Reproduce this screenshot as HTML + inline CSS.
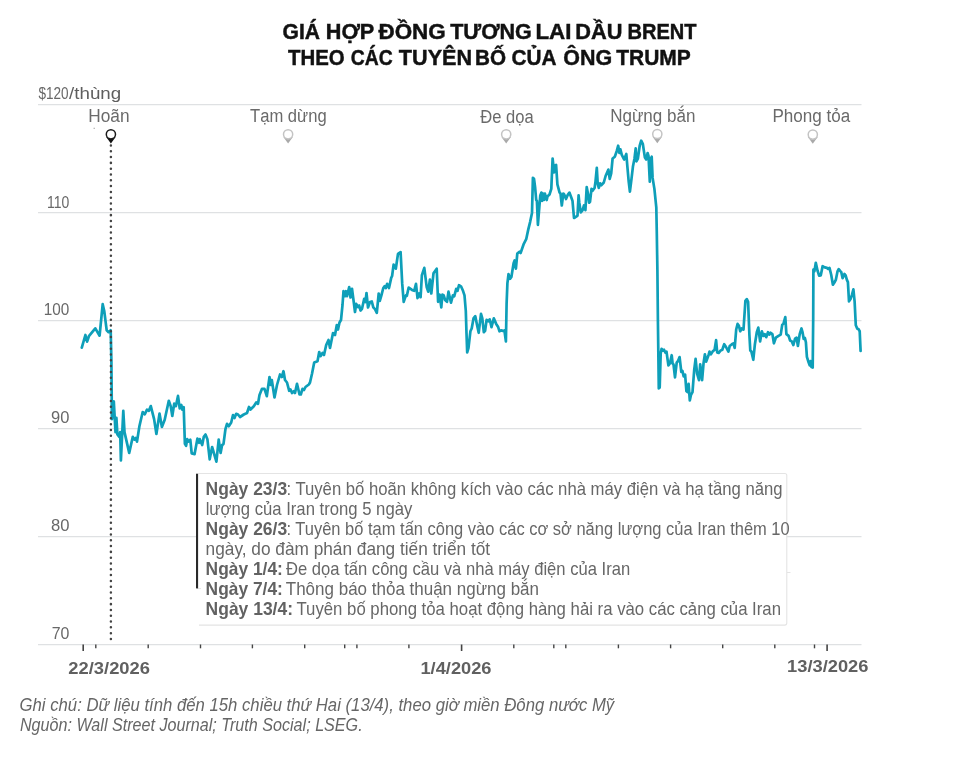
<!DOCTYPE html>
<html lang="vi"><head><meta charset="utf-8"><title>Giá hợp đồng tương lai dầu Brent</title>
<style>html,body{margin:0;padding:0;background:#fff;}svg{display:block;}text{font-family:"Liberation Sans", sans-serif;}</style>
</head><body>
<svg width="961" height="760" viewBox="0 0 961 760">
<rect width="961" height="760" fill="#fff"/>
<line x1="38" x2="861.5" y1="104.7" y2="104.7" stroke="#dfe1e3" stroke-width="1.3"/>
<line x1="38" x2="861.5" y1="212.7" y2="212.7" stroke="#dfe1e3" stroke-width="1.3"/>
<line x1="38" x2="861.5" y1="320.7" y2="320.7" stroke="#dfe1e3" stroke-width="1.3"/>
<line x1="38" x2="861.5" y1="428.7" y2="428.7" stroke="#dfe1e3" stroke-width="1.3"/>
<line x1="38" x2="861.5" y1="536.7" y2="536.7" stroke="#dfe1e3" stroke-width="1.3"/>
<line x1="38" x2="861.5" y1="644.7" y2="644.7" stroke="#dfe1e3" stroke-width="1.3"/>
<line x1="95.8" x2="95.8" y1="644.5" y2="648.3" stroke="#444" stroke-width="1.4"/>
<line x1="148.2" x2="148.2" y1="644.5" y2="648.3" stroke="#444" stroke-width="1.4"/>
<line x1="200.5" x2="200.5" y1="644.5" y2="648.3" stroke="#444" stroke-width="1.4"/>
<line x1="252.4" x2="252.4" y1="644.5" y2="648.3" stroke="#444" stroke-width="1.4"/>
<line x1="304.7" x2="304.7" y1="644.5" y2="648.3" stroke="#444" stroke-width="1.4"/>
<line x1="344.7" x2="344.7" y1="644.5" y2="648.3" stroke="#444" stroke-width="1.4"/>
<line x1="356.9" x2="356.9" y1="644.5" y2="648.3" stroke="#444" stroke-width="1.4"/>
<line x1="408.9" x2="408.9" y1="644.5" y2="648.3" stroke="#444" stroke-width="1.4"/>
<line x1="513.8" x2="513.8" y1="644.5" y2="648.3" stroke="#444" stroke-width="1.4"/>
<line x1="553.8" x2="553.8" y1="644.5" y2="648.3" stroke="#444" stroke-width="1.4"/>
<line x1="565.8" x2="565.8" y1="644.5" y2="648.3" stroke="#444" stroke-width="1.4"/>
<line x1="618.4" x2="618.4" y1="644.5" y2="648.3" stroke="#444" stroke-width="1.4"/>
<line x1="670.6" x2="670.6" y1="644.5" y2="648.3" stroke="#444" stroke-width="1.4"/>
<line x1="722.7" x2="722.7" y1="644.5" y2="648.3" stroke="#444" stroke-width="1.4"/>
<line x1="774.8" x2="774.8" y1="644.5" y2="648.3" stroke="#444" stroke-width="1.4"/>
<line x1="814.5" x2="814.5" y1="644.5" y2="648.3" stroke="#444" stroke-width="1.4"/>
<line x1="83.2" x2="83.2" y1="644.5" y2="651" stroke="#444" stroke-width="1.6"/>
<line x1="461.6" x2="461.6" y1="644.5" y2="651" stroke="#444" stroke-width="1.6"/>
<line x1="827.1" x2="827.1" y1="644.5" y2="651" stroke="#444" stroke-width="1.6"/>
<text x="282.53" y="39.1" font-size="21.8" fill="#111" xml:space="preserve" font-weight="bold" textLength="37.47" lengthAdjust="spacingAndGlyphs" stroke="#111" stroke-width="0.45">GIÁ</text>
<text x="325.75" y="39.1" font-size="21.8" fill="#111" xml:space="preserve" font-weight="bold" textLength="48.55" lengthAdjust="spacingAndGlyphs" stroke="#111" stroke-width="0.45">HỢP</text>
<text x="378.5" y="39.1" font-size="21.8" fill="#111" xml:space="preserve" font-weight="bold" textLength="67.24" lengthAdjust="spacingAndGlyphs" stroke="#111" stroke-width="0.45">ĐỒNG</text>
<text x="450.14" y="39.1" font-size="21.8" fill="#111" xml:space="preserve" font-weight="bold" textLength="81.68" lengthAdjust="spacingAndGlyphs" stroke="#111" stroke-width="0.45">TƯƠNG</text>
<text x="535.4" y="39.1" font-size="21.8" fill="#111" xml:space="preserve" font-weight="bold" textLength="35.99" lengthAdjust="spacingAndGlyphs" stroke="#111" stroke-width="0.45">LAI</text>
<text x="575.34" y="39.1" font-size="21.8" fill="#111" xml:space="preserve" font-weight="bold" textLength="47.21" lengthAdjust="spacingAndGlyphs" stroke="#111" stroke-width="0.45">DẦU</text>
<text x="627.45" y="39.1" font-size="21.8" fill="#111" xml:space="preserve" font-weight="bold" textLength="69.09" lengthAdjust="spacingAndGlyphs" stroke="#111" stroke-width="0.45">BRENT</text>
<text x="288.05" y="64.8" font-size="21.8" fill="#111" xml:space="preserve" font-weight="bold" textLength="56.66" lengthAdjust="spacingAndGlyphs" stroke="#111" stroke-width="0.45">THEO</text>
<text x="350.81" y="64.8" font-size="21.8" fill="#111" xml:space="preserve" font-weight="bold" textLength="41.9" lengthAdjust="spacingAndGlyphs" stroke="#111" stroke-width="0.45">CÁC</text>
<text x="398.84" y="64.8" font-size="21.8" fill="#111" xml:space="preserve" font-weight="bold" textLength="73.22" lengthAdjust="spacingAndGlyphs" stroke="#111" stroke-width="0.45">TUYÊN</text>
<text x="475.11" y="64.8" font-size="21.8" fill="#111" xml:space="preserve" font-weight="bold" textLength="31.02" lengthAdjust="spacingAndGlyphs" stroke="#111" stroke-width="0.45">BỐ</text>
<text x="511.55" y="64.8" font-size="21.8" fill="#111" xml:space="preserve" font-weight="bold" textLength="44.97" lengthAdjust="spacingAndGlyphs" stroke="#111" stroke-width="0.45">CỦA</text>
<text x="563.22" y="64.8" font-size="21.8" fill="#111" xml:space="preserve" font-weight="bold" textLength="48.86" lengthAdjust="spacingAndGlyphs" stroke="#111" stroke-width="0.45">ÔNG</text>
<text x="616.24" y="64.8" font-size="21.8" fill="#111" xml:space="preserve" font-weight="bold" textLength="74.61" lengthAdjust="spacingAndGlyphs" stroke="#111" stroke-width="0.45">TRUMP</text>
<text x="38.49" y="99.0" font-size="15.6" fill="#686868" xml:space="preserve" textLength="30.13" lengthAdjust="spacingAndGlyphs">$120</text>
<text x="69.13" y="99.0" font-size="15.6" fill="#5e5e5e" xml:space="preserve" textLength="52.04" lengthAdjust="spacingAndGlyphs">/thùng</text>
<text x="46.92" y="208.2" font-size="15.9" fill="#686868" xml:space="preserve" textLength="22.29" lengthAdjust="spacingAndGlyphs">110</text>
<text x="43.67" y="315.2" font-size="15.9" fill="#686868" xml:space="preserve" textLength="25.52" lengthAdjust="spacingAndGlyphs">100</text>
<text x="51.06" y="423.2" font-size="15.9" fill="#686868" xml:space="preserve" textLength="18.36" lengthAdjust="spacingAndGlyphs">90</text>
<text x="50.94" y="531.2" font-size="15.9" fill="#686868" xml:space="preserve" textLength="18.48" lengthAdjust="spacingAndGlyphs">80</text>
<text x="51.69" y="639.2" font-size="15.9" fill="#686868" xml:space="preserve" textLength="17.7" lengthAdjust="spacingAndGlyphs">70</text>
<text x="88.28" y="122.0" font-size="17.6" fill="#6a6a6a" xml:space="preserve" textLength="41.29" lengthAdjust="spacingAndGlyphs">Hoãn</text>
<text x="250.02" y="122.0" font-size="17.6" fill="#6a6a6a" xml:space="preserve" textLength="76.63" lengthAdjust="spacingAndGlyphs">Tạm dừng</text>
<text x="480.36" y="122.6" font-size="17.6" fill="#6a6a6a" xml:space="preserve" textLength="53.38" lengthAdjust="spacingAndGlyphs">Đe dọa</text>
<text x="610.2" y="121.8" font-size="17.6" fill="#6a6a6a" xml:space="preserve" textLength="85.29" lengthAdjust="spacingAndGlyphs">Ngừng bắn</text>
<text x="772.4" y="121.7" font-size="17.6" fill="#6a6a6a" xml:space="preserve" textLength="77.81" lengthAdjust="spacingAndGlyphs">Phong tỏa</text>
<text x="68.36" y="674.1" font-size="15.8" fill="#606060" xml:space="preserve" font-weight="bold" textLength="81.61" lengthAdjust="spacingAndGlyphs">22/3/2026</text>
<text x="420.44" y="674.1" font-size="15.8" fill="#606060" xml:space="preserve" font-weight="bold" textLength="71.09" lengthAdjust="spacingAndGlyphs">1/4/2026</text>
<text x="787.14" y="671.9" font-size="15.8" fill="#606060" xml:space="preserve" font-weight="bold" textLength="81.32" lengthAdjust="spacingAndGlyphs">13/3/2026</text>
<text x="19.55" y="710.5" font-size="17.6" fill="#666" xml:space="preserve" font-style="italic" textLength="594.63" lengthAdjust="spacingAndGlyphs">Ghi chú: Dữ liệu tính đến 15h chiều thứ Hai (13/4), theo giờ miền Đông nước Mỹ</text>
<text x="19.91" y="730.5" font-size="17.6" fill="#666" xml:space="preserve" font-style="italic" textLength="342.75" lengthAdjust="spacingAndGlyphs">Nguồn: Wall Street Journal; Truth Social; LSEG.</text>
<path d="M198,473.5 H784.8 Q786.8,473.5 786.8,475.5 V623.1 Q786.8,625.1 784.8,625.1 H198 Z" fill="#fff" stroke="none"/>
<path d="M198,473.5 H784.8 Q786.8,473.5 786.8,475.5 V623.1 Q786.8,625.1 784.8,625.1 H199" fill="none" stroke="#e4e4e4" stroke-width="1.1"/>
<line x1="197" x2="201" y1="588.6" y2="588.6" stroke="#e4e4e4" stroke-width="1"/>
<line x1="197.05" x2="197.05" y1="473.7" y2="588.4" stroke="#2a2a2a" stroke-width="2.1"/>
<line x1="787" x2="790.5" y1="572.5" y2="572.5" stroke="#e4e4e4" stroke-width="1"/>
<path d="M81.8,347.6 L85.4,335.0 L87.1,341.6 L88.9,336.2 L95.3,328.4 L99.6,335.7 L102.7,304.2 L104.3,311.3 L106.7,330.3 L108.6,332.2 L110.7,330.3 L111.4,361.1 L111.9,419.1 L113.8,401.3 L115.5,432.1 L116.4,417.9 L117.4,434.5 L119.3,436.8 L120.2,432.1 L120.9,460.5 L123.3,410.8 L124.5,432.1 L129.2,452.9 L132.8,436.8 L134.4,439.7 L135.8,438.0 L137.0,441.6 L139.4,426.2 L142.7,412.0 L144.8,414.3 L147.0,409.6 L148.9,410.8 L150.8,406.1 L154.1,419.1 L156.4,434.0 L159.5,413.6 L161.9,426.9 L164.7,419.8 L168.8,400.8 L170.7,406.1 L172.3,416.0 L174.2,403.7 L175.9,406.1 L178.0,395.9 L179.7,408.4 L181.3,404.9 L182.3,409.6 L183.7,407.2 L184.9,443.9 L186.1,445.8 L187.2,439.2 L188.4,441.6 L190.3,439.7 L191.7,453.4 L194.6,454.1 L197.4,438.7 L199.1,442.8 L199.8,439.2 L202.2,445.1 L203.8,436.8 L205.5,434.5 L207.4,439.2 L209.7,459.3 L212.1,447.0 L216.4,461.7 L218.7,439.7 L220.6,452.9 L222.1,445.1 L223.5,443.9 L225.5,428.8 L227.0,423.8 L228.8,426.2 L231.2,422.5 L233.0,415.0 L234.5,418.0 L236.2,413.8 L238.0,414.5 L240.0,417.0 L243.8,414.5 L247.0,413.0 L249.0,407.0 L250.5,409.5 L253.8,406.2 L256.2,402.5 L258.0,403.8 L259.5,395.0 L262.0,388.8 L264.5,388.8 L266.8,396.2 L269.5,377.0 L270.8,385.0 L271.8,380.0 L274.5,397.5 L277.0,385.0 L280.0,374.5 L281.8,377.0 L283.5,371.2 L285.0,380.0 L287.0,382.5 L289.2,390.8 L290.5,389.5 L292.0,393.0 L293.8,391.2 L295.0,393.0 L297.0,383.8 L299.5,394.5 L300.8,394.5 L302.5,388.8 L304.0,390.0 L305.5,387.0 L308.8,384.5 L310.0,382.5 L312.0,373.8 L314.2,362.5 L317.5,361.2 L319.2,352.0 L320.5,356.2 L322.5,353.0 L324.0,355.0 L326.2,345.0 L328.5,340.0 L330.0,348.0 L333.0,333.0 L335.0,335.0 L336.8,325.0 L338.0,329.5 L339.5,322.5 L341.0,320.0 L342.5,305.0 L343.5,291.2 L345.0,296.2 L346.0,291.2 L347.0,296.2 L349.2,287.0 L350.5,297.5 L352.0,288.8 L353.8,302.5 L355.0,312.0 L356.2,303.8 L358.0,307.0 L359.2,305.5 L360.5,310.5 L362.0,308.8 L364.2,298.8 L365.5,302.0 L366.5,293.0 L368.0,307.5 L370.0,302.0 L371.8,301.5 L373.3,307.3 L375.0,309.2 L376.8,312.9 L378.7,293.5 L379.8,300.9 L381.4,295.4 L383.3,288.0 L384.7,286.2 L385.8,288.0 L387.1,283.8 L389.0,288.0 L391.2,277.9 L392.1,276.0 L393.6,264.6 L395.8,268.7 L398.0,253.9 L400.6,252.1 L402.2,283.4 L403.7,301.8 L405.9,295.4 L406.8,295.9 L408.7,287.5 L412.0,289.9 L414.2,290.8 L416.0,283.8 L417.5,298.1 L419.2,293.5 L420.6,297.2 L421.9,275.1 L424.3,267.8 L426.7,287.1 L428.2,291.7 L429.9,279.7 L431.3,293.5 L433.5,273.3 L436.7,268.7 L438.1,301.8 L439.6,294.5 L441.3,307.3 L442.4,294.5 L443.7,295.4 L445.1,300.0 L447.0,301.8 L448.5,291.7 L451.0,302.7 L452.9,295.4 L454.2,296.3 L456.2,288.9 L457.5,290.8 L459.0,285.2 L461.2,286.7 L463.0,290.8 L464.5,295.4 L465.8,311.0 L466.5,333.1 L467.2,352.5 L468.5,347.9 L470.4,331.3 L471.7,328.5 L473.5,318.4 L475.3,316.2 L477.2,325.8 L478.7,332.8 L481.0,313.8 L482.3,318.4 L483.8,332.2 L485.1,330.9 L486.6,319.9 L488.4,321.2 L489.7,319.3 L491.5,327.2 L493.8,318.4 L496.2,323.9 L498.0,326.7 L499.5,331.3 L501.1,330.4 L503.0,330.9 L504.4,330.4 L505.9,341.4 L506.6,303.7 L507.4,283.4 L508.5,274.2 L510.0,278.8 L511.4,277.0 L513.6,263.1 L514.6,260.4 L515.9,268.7 L517.3,253.6 L519.5,251.7 L520.6,253.0 L521.9,249.3 L523.8,243.8 L526.2,239.2 L528.3,229.4 L530.1,222.1 L532.0,212.9 L532.9,177.9 L534.0,178.8 L535.1,187.1 L536.2,200.0 L536.9,200.9 L537.9,224.8 L539.3,207.3 L540.3,195.4 L541.4,192.6 L542.1,200.9 L543.0,193.5 L543.9,200.0 L544.9,193.5 L546.7,200.0 L547.6,196.3 L549.5,194.5 L551.3,188.9 L552.6,158.5 L554.1,172.4 L554.6,165.9 L556.1,165.0 L557.4,184.3 L559.6,192.6 L560.5,193.5 L561.8,205.5 L563.3,193.5 L564.2,194.5 L566.0,199.1 L567.9,194.5 L569.4,192.6 L571.2,197.2 L572.5,200.9 L574.0,218.0 L576.2,216.6 L577.5,215.6 L578.6,195.4 L579.3,202.7 L580.8,212.5 L582.6,210.1 L583.9,205.5 L585.4,210.1 L586.7,187.1 L588.1,194.5 L589.1,202.7 L590.0,201.8 L591.5,188.9 L592.4,190.8 L594.6,188.0 L595.5,181.6 L596.8,167.8 L597.7,183.4 L598.8,188.0 L600.1,183.4 L601.4,185.2 L603.8,182.5 L605.6,176.0 L608.4,169.6 L609.7,178.8 L611.2,173.3 L612.6,158.5 L614.8,156.7 L616.7,151.2 L618.2,145.7 L619.4,153.0 L620.4,149.3 L621.8,154.9 L624.1,159.5 L626.3,153.9 L627.4,166.8 L628.7,181.6 L629.9,191.7 L631.4,179.7 L632.9,166.8 L634.5,158.5 L635.7,148.4 L636.4,161.3 L637.9,158.5 L639.7,145.7 L641.2,140.7 L642.8,143.8 L644.9,157.6 L646.2,159.5 L647.6,153.0 L648.5,155.8 L649.8,181.6 L650.4,159.5 L651.7,156.7 L652.6,177.9 L654.4,188.9 L656.3,207.3 L656.8,233.1 L657.4,270.0 L657.9,320.2 L658.8,388.4 L659.7,387.5 L660.7,353.4 L661.6,348.8 L662.9,350.6 L664.0,349.7 L665.3,352.5 L666.5,351.6 L668.4,365.4 L669.9,363.5 L671.7,355.2 L672.6,363.5 L673.5,364.4 L675.0,377.3 L676.7,362.6 L678.1,360.8 L679.6,357.1 L681.3,371.8 L682.4,370.9 L683.7,376.4 L685.1,374.6 L686.4,391.2 L687.7,392.1 L688.6,383.8 L689.8,400.4 L691.0,394.8 L692.5,392.1 L694.2,370.0 L695.6,358.9 L697.1,373.7 L699.0,380.1 L700.2,364.4 L702.1,380.1 L703.6,362.6 L704.9,354.3 L706.1,361.7 L708.5,355.2 L709.5,351.6 L710.9,354.3 L712.6,351.6 L714.6,349.7 L716.1,340.1 L717.2,352.5 L718.7,353.0 L720.5,350.6 L722.3,349.7 L724.2,344.2 L726.0,347.0 L728.4,351.6 L729.7,346.0 L731.9,344.2 L733.4,343.3 L734.7,347.9 L736.2,329.5 L737.6,323.9 L738.9,325.8 L740.2,331.3 L741.7,328.5 L743.5,329.5 L745.4,300.9 L746.8,299.1 L748.1,301.8 L749.4,335.0 L750.3,350.6 L751.4,351.6 L753.3,359.8 L754.9,344.2 L756.8,332.2 L758.3,327.6 L760.1,341.4 L761.9,331.3 L763.4,335.9 L764.7,334.1 L766.2,337.2 L768.0,332.2 L769.3,334.6 L770.6,332.8 L772.4,334.1 L773.9,343.3 L775.8,337.7 L778.5,335.9 L780.7,334.6 L782.2,324.9 L783.5,323.6 L785.3,317.1 L786.4,334.1 L788.6,335.9 L790.1,340.5 L791.8,341.4 L793.3,345.1 L795.1,338.7 L796.6,337.7 L797.9,346.0 L799.7,334.1 L801.5,328.5 L802.5,332.1 L803.7,338.9 L804.9,338.0 L805.9,342.3 L806.9,356.8 L808.5,362.0 L809.7,365.4 L810.7,361.1 L811.5,367.1 L812.7,367.6 L813.2,318.4 L813.4,269.7 L814.4,271.4 L815.8,262.8 L817.5,270.5 L819.1,275.6 L820.8,275.3 L822.6,266.2 L824.7,267.4 L826.9,267.9 L828.1,268.8 L829.5,267.9 L831.2,274.8 L832.9,284.7 L834.4,282.5 L835.8,279.9 L837.5,271.4 L838.7,269.1 L840.1,270.9 L841.3,272.2 L842.6,278.2 L844.4,273.9 L845.6,275.3 L846.9,279.9 L847.9,282.1 L849.0,301.3 L850.7,298.7 L852.1,294.4 L853.4,289.3 L854.6,301.3 L855.8,325.2 L857.2,328.6 L858.4,329.0 L859.7,331.2 L860.6,350.9" fill="none" stroke="#0e9fb9" stroke-width="2.7" stroke-linejoin="round" stroke-linecap="round"/>
<line x1="110.9" x2="110.9" y1="145.45" y2="640" stroke="#444" stroke-width="2.5" stroke-dasharray="0.01 5.796" stroke-linecap="round"/>
<path d="M106.0,136.7 L110.9,143.5 L115.80000000000001,136.7 Z" fill="#111"/>
<circle cx="110.9" cy="134.3" r="4.6" fill="#fff" stroke="#1a1a1a" stroke-width="1.5"/>
<path d="M283.20000000000005,136.7 L288.1,143.5 L293.0,136.7 Z" fill="#a9a9a9"/>
<circle cx="288.1" cy="134.3" r="4.6" fill="#fff" stroke="#c4c4c4" stroke-width="1.5"/>
<path d="M501.3,136.7 L506.2,143.5 L511.09999999999997,136.7 Z" fill="#a9a9a9"/>
<circle cx="506.2" cy="134.3" r="4.6" fill="#fff" stroke="#c4c4c4" stroke-width="1.5"/>
<path d="M652.4,136.4 L657.3,143.2 L662.1999999999999,136.4 Z" fill="#a9a9a9"/>
<circle cx="657.3" cy="134.0" r="4.6" fill="#fff" stroke="#c4c4c4" stroke-width="1.5"/>
<path d="M807.9,137.0 L812.8,143.8 L817.6999999999999,137.0 Z" fill="#a9a9a9"/>
<circle cx="812.8" cy="134.6" r="4.6" fill="#fff" stroke="#c4c4c4" stroke-width="1.5"/>
<rect x="93.6" y="127.8" width="1.2" height="0.9" fill="#888"/>
<text x="205.61" y="494.6" font-size="17.7" fill="#626262" xml:space="preserve" font-weight="bold" textLength="81.53" lengthAdjust="spacingAndGlyphs">Ngày 23/3</text>
<text x="286.48" y="494.6" font-size="17.7" fill="#676767" xml:space="preserve" textLength="496.05" lengthAdjust="spacingAndGlyphs">: Tuyên bố hoãn không kích vào các nhà máy điện và hạ tầng năng</text>
<text x="205.66" y="514.6" font-size="17.7" fill="#676767" xml:space="preserve" textLength="206.64" lengthAdjust="spacingAndGlyphs">lượng của Iran trong 5 ngày</text>
<text x="205.61" y="534.6" font-size="17.7" fill="#626262" xml:space="preserve" font-weight="bold" textLength="81.53" lengthAdjust="spacingAndGlyphs">Ngày 26/3</text>
<text x="286.5" y="534.6" font-size="17.7" fill="#676767" xml:space="preserve" textLength="503.2" lengthAdjust="spacingAndGlyphs">: Tuyên bố tạm tấn công vào các cơ sở năng lượng của Iran thêm 10</text>
<text x="205.61" y="554.6" font-size="17.7" fill="#676767" xml:space="preserve" textLength="284.48" lengthAdjust="spacingAndGlyphs">ngày, do đàm phán đang tiến triển tốt</text>
<text x="205.61" y="574.6" font-size="17.7" fill="#626262" xml:space="preserve" font-weight="bold" textLength="77.29" lengthAdjust="spacingAndGlyphs">Ngày 1/4:</text>
<text x="286.06" y="574.6" font-size="17.7" fill="#676767" xml:space="preserve" textLength="344.06" lengthAdjust="spacingAndGlyphs">Đe dọa tấn công cầu và nhà máy điện của Iran</text>
<text x="205.61" y="594.6" font-size="17.7" fill="#626262" xml:space="preserve" font-weight="bold" textLength="77.29" lengthAdjust="spacingAndGlyphs">Ngày 7/4:</text>
<text x="285.81" y="594.6" font-size="17.7" fill="#676767" xml:space="preserve" textLength="253.23" lengthAdjust="spacingAndGlyphs">Thông báo thỏa thuận ngừng bắn</text>
<text x="205.61" y="614.6" font-size="17.7" fill="#626262" xml:space="preserve" font-weight="bold" textLength="87.38" lengthAdjust="spacingAndGlyphs">Ngày 13/4:</text>
<text x="296.52" y="614.6" font-size="17.7" fill="#676767" xml:space="preserve" textLength="484.47" lengthAdjust="spacingAndGlyphs">Tuyên bố phong tỏa hoạt động hàng hải ra vào các cảng của Iran</text>
</svg></body></html>
